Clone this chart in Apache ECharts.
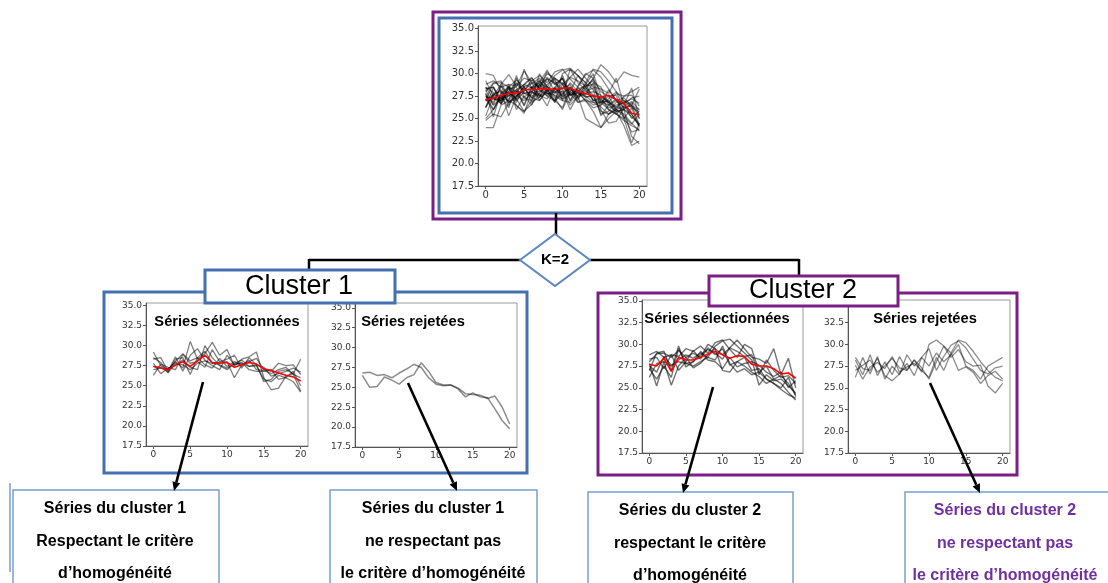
<!DOCTYPE html>
<html><head><meta charset="utf-8">
<script src="https://cdn.jsdelivr.net/npm/echarts@6/dist/echarts.min.js"></script>
<style>html,body{margin:0;padding:0;background:#fff}#c{width:1108px;height:583px}</style>
</head><body><div id="c"></div>
<script>
// ---------- data ----------
const X = [0,1,2,3,4,5,6,7,8,9,10,11,12,13,14,15,16,17,18,19,20];
const X_TICKS = [0,5,10,15,20];
const Y_TICKS = [17.5,20,22.5,25,27.5,30,32.5,35];

// Cluster 1 - selected series
const c1Sel = [
 [27.4,27.3,26.7,28.3,28.5,26.4,28.5,29.3,27.8,27.9,28.0,26.0,27.6,28.0,28.4,27.0,26.8,27.8,27.5,27.6,26.4],
 [29.2,27.5,27.0,28.0,27.2,30.5,28.3,29.0,30.4,28.8,29.5,27.5,28.3,28.6,29.2,26.0,24.5,24.7,26.2,26.5,24.3],
 [26.3,27.7,27.3,27.0,28.9,27.8,28.0,27.3,29.5,28.0,28.3,28.8,27.2,28.5,27.6,25.5,25.8,26.8,27.0,26.5,28.3],
 [28.3,28.5,26.8,28.6,26.8,28.8,29.6,28.2,27.5,27.0,28.8,27.6,27.9,27.0,26.8,26.8,27.0,25.8,26.0,25.5,24.2],
 [27.8,26.5,27.2,27.5,28.2,27.3,27.0,30.0,28.5,27.5,27.0,27.8,28.2,27.4,27.6,27.3,26.2,26.5,26.8,27.2,26.7],
 [27.0,27.2,27.0,28.0,29.0,28.1,28.5,27.6,27.2,28.4,27.4,28.0,27.5,28.2,27.0,26.9,26.5,27.0,27.3,26.4,26.0],
 [28.5,27.9,26.6,27.8,27.6,27.0,27.8,28.1,27.8,27.6,27.2,27.7,27.8,27.4,27.5,25.8,25.5,26.3,26.0,26.8,25.0]
];
const c1SelMean = [27.4,27.2,27.0,27.6,28.0,27.4,28.1,28.8,27.9,27.8,27.9,27.3,27.6,27.9,27.7,27.1,26.9,26.6,26.3,26.1,25.6];

// Cluster 1 - rejected series
const c1Rej = [
 [26.8,26.9,26.5,26.6,26.2,26.8,27.3,27.9,27.5,26.2,25.4,25.2,25.3,24.9,24.2,24.1,24.0,23.6,23.9,22.5,20.4],
 [26.5,25.0,25.1,26.3,25.9,25.4,26.2,26.6,28.1,27.0,25.6,25.3,25.3,24.8,23.8,24.3,23.8,23.7,22.3,20.8,19.8]
];

// Cluster 2 - selected series
const c2Sel = [
 [27.8,25.2,28.0,25.3,27.5,28.5,27.3,27.8,28.8,29.5,27.0,26.8,28.0,27.5,26.8,26.3,25.5,26.0,25.5,24.5,23.6],
 [27.0,29.0,29.2,27.0,29.8,27.4,28.0,28.8,29.4,29.0,28.3,29.6,30.5,29.5,28.5,28.3,27.8,29.5,26.5,28.4,25.0],
 [28.8,29.2,28.5,28.8,28.6,29.5,29.2,29.8,29.0,30.2,30.5,29.4,28.5,30.0,29.5,26.8,27.5,26.0,26.4,25.5,24.2],
 [26.2,27.8,28.0,27.5,28.2,28.8,28.4,29.0,28.5,29.8,30.4,30.6,29.8,29.0,28.2,25.3,26.5,25.8,26.0,25.2,24.4],
 [28.3,28.5,27.2,28.8,27.0,28.0,29.3,28.3,29.6,28.8,29.5,27.6,28.0,28.5,27.0,27.2,26.0,25.5,25.0,26.2,24.0],
 [27.5,26.8,28.6,27.6,28.0,27.8,28.0,29.2,28.2,28.0,27.2,28.5,27.4,27.8,28.0,27.6,26.8,26.3,26.8,25.0,25.8],
 [27.2,26.0,27.5,26.2,29.5,27.8,27.5,28.0,28.5,28.2,29.8,27.8,26.8,27.2,26.5,26.8,26.0,25.5,24.8,24.2,23.8],
 [28.0,28.9,29.0,28.5,29.3,28.5,29.0,28.5,30.0,29.5,28.8,29.6,29.2,28.6,28.8,26.5,28.2,27.0,26.2,26.4,25.5]
];
const c2SelMean = [27.7,27.5,28.4,26.9,28.5,28.2,28.2,28.5,28.9,29.2,28.8,28.4,28.7,28.6,27.7,27.5,27.5,27.2,26.6,26.7,26.1];

// Cluster 2 - rejected series
const c2Rej = [
 [28.2,26.5,28.8,26.4,28.0,26.5,28.6,27.0,28.2,26.8,30.0,30.5,29.8,29.0,30.5,30.2,29.2,28.0,27.0,26.2,25.8],
 [26.2,28.5,26.6,28.6,26.0,27.5,26.5,28.8,27.5,28.5,27.5,29.0,28.0,28.8,30.0,27.5,27.0,26.0,27.5,28.0,28.5],
 [27.0,27.6,28.2,26.8,27.5,28.4,27.3,27.0,28.2,27.3,26.0,28.0,29.8,28.5,29.4,28.0,27.5,27.6,25.2,24.4,25.5],
 [28.5,27.2,27.0,28.4,26.4,25.8,26.6,27.8,26.4,28.5,29.5,27.0,28.6,29.9,30.4,29.6,28.3,27.0,26.6,27.3,27.5],
 [27.6,26.0,27.4,27.9,27.2,28.6,26.8,27.4,27.8,27.0,26.2,28.5,27.0,29.0,27.0,27.4,26.8,25.5,26.4,26.9,26.0]
];

// Additional series visible only in the global chart
const allExtra = [
 [24.0,24.0,26.5,27.0,26.5,25.6,28.0,27.5,28.3,27.0,27.8,28.5,26.8,27.0,25.8,24.0,25.0,25.8,24.2,22.0,22.5],
 [25.0,26.0,27.8,28.5,28.0,28.8,29.5,28.4,30.2,29.2,27.5,30.5,29.0,28.2,29.5,31.0,30.2,29.0,30.2,29.8,29.6],
 [25.3,27.5,28.8,29.9,28.6,30.3,29.0,27.5,28.0,29.5,28.9,27.0,28.5,27.6,29.0,28.5,26.5,27.2,25.0,22.3,24.5],
 [30.0,29.8,28.0,26.8,27.5,28.2,28.9,29.5,28.6,27.8,29.0,28.2,28.0,27.0,26.2,26.5,27.2,28.0,26.0,23.0,22.2],
 [24.8,25.5,25.2,26.8,27.2,25.8,27.0,28.8,28.0,26.8,28.2,26.5,27.5,25.0,24.5,24.0,25.5,26.0,25.2,23.5,23.8]
];
const allMean = [27.1,27.3,27.6,27.8,27.8,28.2,28.2,28.3,28.3,28.2,28.4,28.4,28.0,27.8,27.5,27.4,27.6,27.1,26.7,25.6,25.4];

// Texts
const T_SEL = 'Séries sélectionnées';
const T_REJ = 'Séries rejetées';
const BOX_TEXTS = [
 ['Séries du cluster 1','Respectant le critère','d\u2019homogénéité'],
 ['Séries du cluster 1','ne respectant pas','le critère d\u2019homogénéité'],
 ['Séries du cluster 2','respectant le critère','d\u2019homogénéité'],
 ['Séries du cluster 2','ne respectant pas','le critère d\u2019homogénéité']
];

// ---------- layout ----------
const PURPLE = '#7b1f87', BLUE = '#4470b0', LBLUE = '#7b9fd0';
const grids = [
 {left:478, top:26, width:169, height:160},
 {left:146, top:303, width:162, height:143},
 {left:355, top:303, width:162, height:144},
 {left:642, top:300, width:161, height:153},
 {left:848, top:300, width:162, height:153}
];
const yMax = [35.3,35.3,35.6,35.1,35.1];
const fs = [10,9,9,9,9];

const xAxes = [], yAxes = [], series = [];
grids.forEach((g,i)=>{
  g.show = true; g.borderColor = '#9a9a9a'; g.borderWidth = 1; g.backgroundColor='#fff';
  xAxes.push({type:'value', gridIndex:i, min:-1, max:21,
    axisLine:{show:true,onZero:false,lineStyle:{color:'#555'}},
    axisTick:{show:true,length:3,customValues:X_TICKS,lineStyle:{color:'#555'}},
    axisLabel:{customValues:X_TICKS,fontFamily:'DejaVu Sans',fontSize:fs[i],color:'#333',margin:4},
    splitLine:{show:false}});
  yAxes.push({type:'value', gridIndex:i, min:17.5, max:yMax[i],
    axisLine:{show:true,onZero:false,lineStyle:{color:'#555'}},
    axisTick:{show:true,length:3,customValues:Y_TICKS,lineStyle:{color:'#555'}},
    axisLabel:{customValues:Y_TICKS,fontFamily:'DejaVu Sans',fontSize:fs[i],color:'#333',margin:4,
      formatter:v=>v.toFixed(1)},
    splitLine:{show:false}});
});

function addLines(arr, gi, color, width){
  arr.forEach(vals=>{
    series.push({type:'line', xAxisIndex:gi, yAxisIndex:gi, showSymbol:false, silent:true,
      data:X.map((x,k)=>[x,vals[k]]), lineStyle:{color:color,width:width}, z:2});
  });
}
function addMean(vals, gi){
  series.push({type:'line', xAxisIndex:gi, yAxisIndex:gi, showSymbol:false, silent:true,
    data:X.map((x,k)=>[x,vals[k]]), lineStyle:{color:'#ff0000',width:1.6}, z:5});
}
// global chart = all series
addLines([].concat(c1Sel,c2Sel,c2Rej,allExtra), 0, 'rgba(0,0,0,0.45)', 1.3);
addMean(allMean, 0);
addLines(c1Sel, 1, 'rgba(0,0,0,0.5)', 1.3);
addMean(c1SelMean, 1);
addLines(c1Rej, 2, 'rgba(0,0,0,0.45)', 1.5);
addLines(c2Sel, 3, 'rgba(0,0,0,0.55)', 1.4);
addMean(c2SelMean, 3);
addLines(c2Rej, 4, 'rgba(0,0,0,0.45)', 1.3);

// ---------- diagram graphics ----------
const G = [];
function rect(x,y,w,h,stroke,lw,fill,z){G.push({type:'rect',shape:{x,y,width:w,height:h},style:{fill:fill||'none',stroke,lineWidth:lw},z:z||10,silent:true});}
function line(x1,y1,x2,y2,lw,color,z){G.push({type:'line',shape:{x1,y1,x2,y2},style:{stroke:color||'#000',lineWidth:lw},z:z||10,silent:true});}
function text(t,x,y,font,fill,z){G.push({type:'text',x,y,style:{text:t,font,fill:fill||'#000',align:'center',verticalAlign:'middle'},z:z||20,silent:true});}
function arrow(x1,y1,x2,y2){
  const dx=x2-x1, dy=y2-y1, L=Math.hypot(dx,dy), ux=dx/L, uy=dy/L;
  const bx=x2-ux*9, by=y2-uy*9;
  line(x1,y1,bx,by,2.6,'#000',30);
  G.push({type:'polygon',shape:{points:[[x2,y2],[bx-uy*4,by+ux*4],[bx+uy*4,by-ux*4]]},style:{fill:'#000'},z:30,silent:true});
}

// top boxes
rect(433,12,248,207,PURPLE,3);
rect(439,18,233,195,BLUE,3);
// connectors
line(556,213,556,236,2.5);
line(309,260,520,260,2.5);
line(590,260,799,260,2.5);
line(309,259,309,272,2.5);
line(799,259,799,278,2.5);
G.push({type:'polygon',shape:{points:[[555,234],[590,260],[555,286],[520,260]]},style:{fill:'#fff',stroke:'#5b87c0',lineWidth:2},z:12,silent:true});
text('K=2',555,260,'bold 15px "Liberation Sans"','#000');
// cluster boxes
rect(104,292,423,181,BLUE,3);
rect(205,270,190,33,BLUE,3,'#fff',15);
text('Cluster 1',299,287,'27px "Liberation Sans"','#000');
rect(598,293,419,182,PURPLE,3);
rect(709,276,189,30,PURPLE,3,'#fff',15);
text('Cluster 2',803,291,'27px "Liberation Sans"','#000');
// chart titles
text(T_SEL,227,322,'bold 14.7px "Liberation Sans"','#000');
text(T_REJ,413,322,'bold 14.7px "Liberation Sans"','#000');
text(T_SEL,717,319,'bold 14.7px "Liberation Sans"','#000');
text(T_REJ,925,319,'bold 14.7px "Liberation Sans"','#000');
// arrows
arrow(203,382,174,491);
arrow(408,383,457,491);
arrow(713,387,683,493);
arrow(930,383,980,493);
// bottom boxes
line(10,483,10,572,1.5,LBLUE);
const boxes = [[13,490,206,115],[330,490,207,433],[588,492,205,690],[905,492,215,1005]];
const boxColors = ['#000','#000','#000','#7030a0'];
boxes.forEach((b,i)=>{
  rect(b[0],b[1],b[2],100,LBLUE,1.5,'#fff',25);
  const dy = b[1]-490;
  BOX_TEXTS[i].forEach((t,k)=>text(t,b[3],509+dy+k*32.5,'bold 16px "Liberation Sans"',boxColors[i],26));
});

const chart = echarts.init(document.getElementById('c'),null,{renderer:'canvas'});
chart.setOption({animation:false, backgroundColor:'#fff', grid:grids, xAxis:xAxes, yAxis:yAxes, series, graphic:G});
</script></body></html>
